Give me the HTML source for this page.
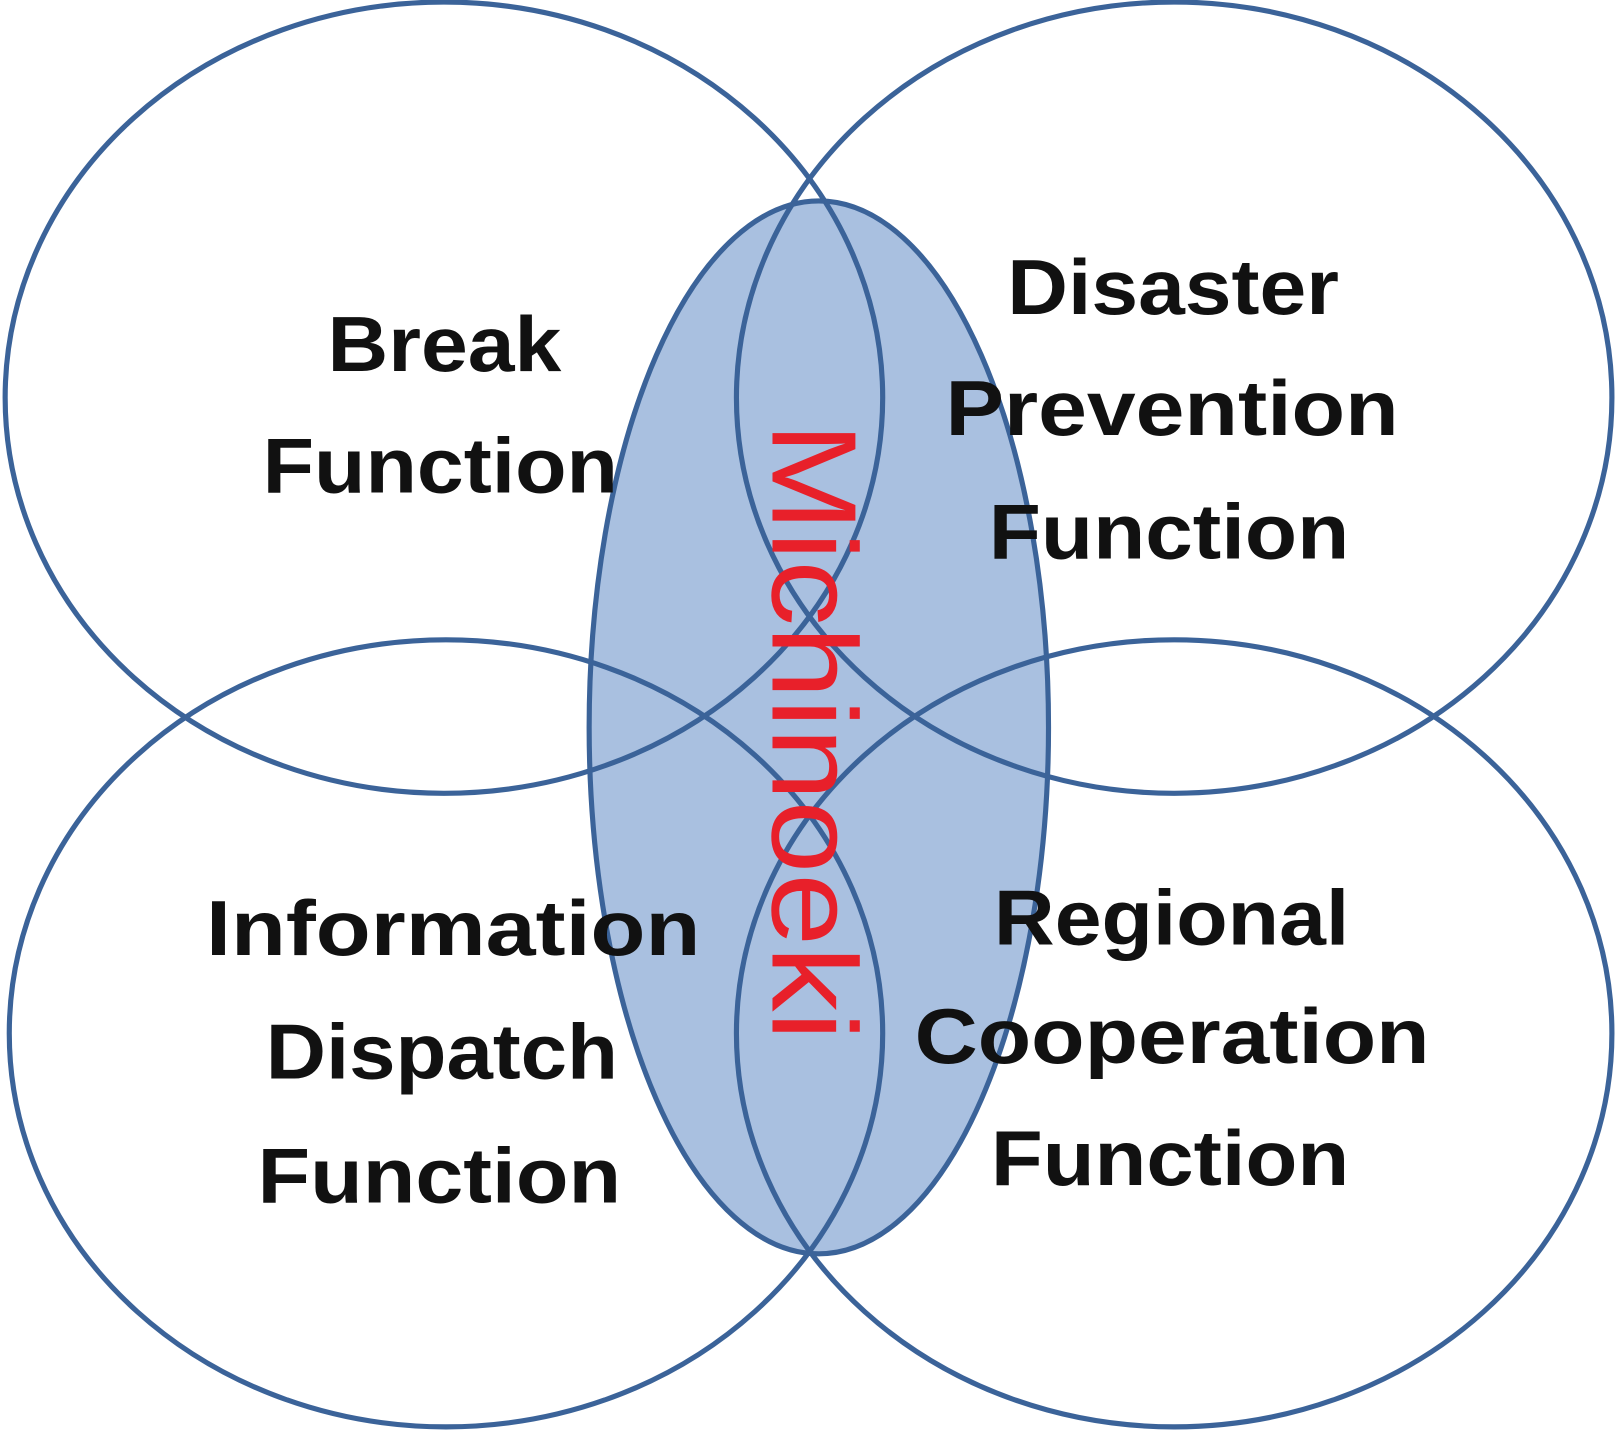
<!DOCTYPE html>
<html><head><style>html,body{margin:0;padding:0;background:#fff}svg{display:block}</style></head>
<body>
<svg width="1615" height="1431" viewBox="0 0 1568 1389" preserveAspectRatio="none" xmlns="http://www.w3.org/2000/svg">
<ellipse cx="795" cy="706" rx="223" ry="511" fill="#a9c0e0"/>
<g fill="none" stroke="#3b6399" stroke-width="5">
<ellipse cx="431" cy="386" rx="426" ry="384"/>
<ellipse cx="1140" cy="386" rx="425" ry="384"/>
<ellipse cx="433" cy="1003" rx="424" ry="382"/>
<ellipse cx="1140" cy="1003" rx="425" ry="382"/>
<ellipse cx="795" cy="706" rx="223" ry="511"/>
</g>
<g font-family="Liberation Sans, sans-serif" font-weight="bold" font-size="76" fill="#111" lengthAdjust="spacingAndGlyphs">
<text x="318" y="360" textLength="227" lengthAdjust="spacingAndGlyphs">Break</text>
<text x="255" y="478" textLength="345" lengthAdjust="spacingAndGlyphs">Function</text>
<text x="978" y="305" textLength="322" lengthAdjust="spacingAndGlyphs">Disaster</text>
<text x="918" y="422" textLength="440" lengthAdjust="spacingAndGlyphs">Prevention</text>
<text x="960" y="542" textLength="350" lengthAdjust="spacingAndGlyphs">Function</text>
<text x="200" y="927" textLength="480" lengthAdjust="spacingAndGlyphs">Information</text>
<text x="258" y="1047" textLength="342" lengthAdjust="spacingAndGlyphs">Dispatch</text>
<text x="250" y="1167" textLength="353" lengthAdjust="spacingAndGlyphs">Function</text>
<text x="965" y="917" textLength="345" lengthAdjust="spacingAndGlyphs">Regional</text>
<text x="888" y="1032" textLength="500" lengthAdjust="spacingAndGlyphs">Cooperation</text>
<text x="962" y="1150" textLength="348" lengthAdjust="spacingAndGlyphs">Function</text>
</g>
<text transform="translate(750,410) rotate(90)" font-family="Liberation Sans, sans-serif" font-size="117" fill="#e8202a" textLength="600" lengthAdjust="spacingAndGlyphs">Michinoeki</text>
</svg>
</body></html>
